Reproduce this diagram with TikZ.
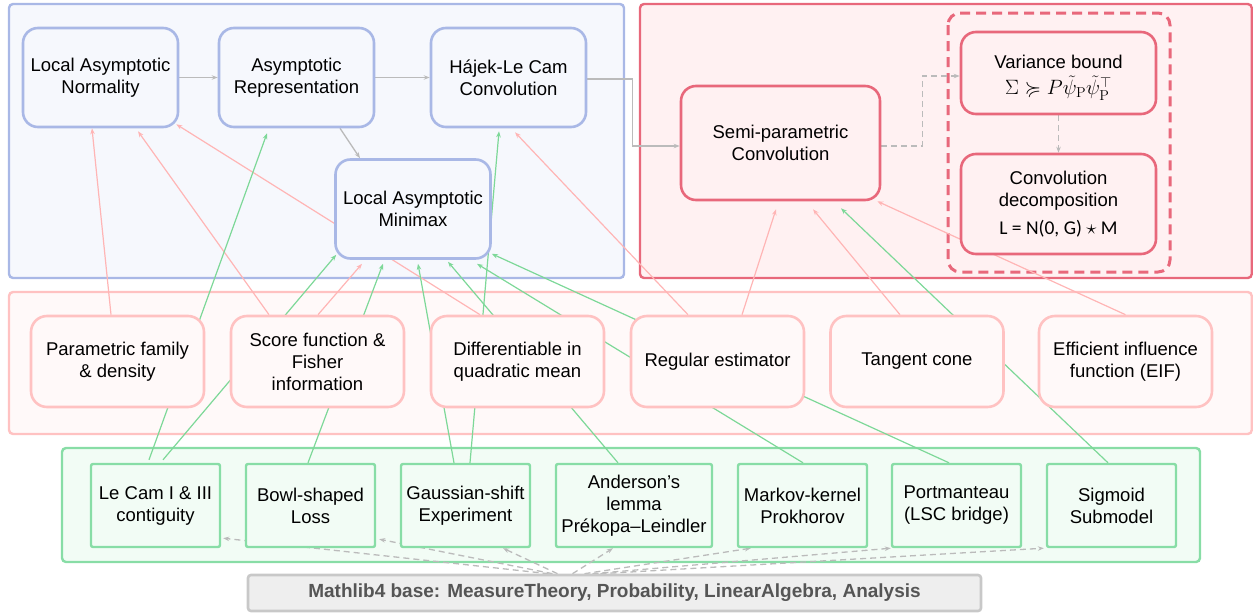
\documentclass[tikz,border=0pt]{standalone}
\usepackage[no-math]{fontspec}
\usepackage{amssymb}
\setmainfont{Liberation Sans}
\newfontfamily\calibfont{Carlito}
\usetikzlibrary{arrows.meta,calc}
\pgfdeclarelayer{background}
\pgfdeclarelayer{edges}
\pgfsetlayers{background,edges,main}
\definecolor{bluebd}{HTML}{A9B8E6}
\definecolor{bluefill}{HTML}{F6F8FD}
\definecolor{redbd}{HTML}{E8687B}
\definecolor{redfill}{HTML}{FFF1F2}
\definecolor{pinkbd}{HTML}{FFC2C2}
\definecolor{pinkfill}{HTML}{FFF9F9}
\definecolor{greenbd}{HTML}{88DDA6}
\definecolor{greenfill}{HTML}{F2FCF5}
\definecolor{grayedge}{HTML}{BBBBBB}
\definecolor{pinkedge}{HTML}{FFB5B5}
\definecolor{greenedge}{HTML}{7DD898}
\definecolor{basefill}{HTML}{EEEEEE}
\definecolor{basebd}{HTML}{C8C8C8}
\definecolor{basetext}{HTML}{555555}
\tikzset{
  box/.style={align=center, inner sep=0pt, font=\fontsize{18.5}{22}\selectfont, text=black},
  bluenode/.style={box, draw=bluebd, fill=bluefill, line width=2.6pt, rounded corners=15pt, minimum width=155pt, minimum height=99pt},
  rednode/.style={box, draw=redbd, fill=redfill, line width=2.6pt, rounded corners=15pt},
  pinknode/.style={box, draw=pinkbd, fill=pinkfill, line width=2.6pt, rounded corners=16pt, minimum width=173pt, minimum height=91pt},
  greennode/.style={box, draw=greenbd, fill=greenfill, line width=2.4pt, rounded corners=2pt, minimum width=129pt, minimum height=83pt},
  panel/.style={line width=2.4pt, rounded corners=4pt},
  pinkarrow/.style={draw=pinkedge, line width=1.2pt, -{Stealth[length=6pt,width=4.5pt]}},
  greenarrow/.style={draw=greenedge, line width=1.2pt, -{Stealth[length=6pt,width=4.5pt]}},
  grayarrow/.style={draw=grayedge, line width=1.3pt, -{Stealth[length=6pt,width=4.5pt]}},
  dasharrow/.style={grayarrow, dash pattern=on 6pt off 4pt},
}
\begin{document}
\begin{tikzpicture}[x=1pt,y=-1pt]
\useasboundingbox (0,0) rectangle (1253,613);
% nodes
\node[bluenode] (LAN) at (100.5,77.5) {Local Asymptotic\\Normality};
\node[bluenode] (AR) at (296.5,77.5) {Asymptotic\\Representation};
\node[bluenode] (HLC) at (508.5,77.5) {Hájek-Le Cam\\Convolution};
\node[bluenode] (LAM) at (413,209) {Local Asymptotic\\Minimax};
\node[rednode, minimum width=199pt, minimum height=114pt] (Semi) at (780.5,143) {Semi-parametric\\Convolution};
\node[rednode, minimum width=195pt, minimum height=82pt,
  label={[box, yshift=-5pt]center:{Variance bound\\[4pt]{\fontsize{21}{24}\selectfont$\Sigma \succcurlyeq P\tilde{\psi}_{\mathrm{P}}\tilde{\psi}_{\mathrm{P}}^{\top}$}}}] (Var) at (1058.5,73) {};
\node[rednode, minimum width=195pt, minimum height=100pt] (Conv) at (1058.5,204) {Convolution\\decomposition\\[6pt]{\calibfont\fontsize{19.5}{22}\selectfont L = N(0, G) $\star$ M}};
\node[pinknode] (Par) at (117.5,361.5) {Parametric family\\\& density};
\node[pinknode] (Score) at (317.5,361.5) {Score function \&\\Fisher\\information};
\node[pinknode] (DQM) at (517.5,361.5) {Differentiable in\\quadratic mean};
\node[pinknode] (Reg) at (717.5,361.5) {Regular estimator};
\node[pinknode] (Tan) at (917,361.5) {Tangent cone};
\node[pinknode] (EIF) at (1125.5,361.5) {Efficient influence\\function (EIF)};
\node[greennode] (LeCam) at (155.5,505.5) {Le Cam I \& III\\contiguity};
\node[greennode] (Bowl) at (310.5,505.5) {Bowl-shaped\\Loss};
\node[greennode] (Gauss) at (465.5,505.5) {Gaussian-shift\\Experiment};
\node[greennode, minimum width=156pt] (And) at (634,505.5) {Anderson’s\\lemma\\Prékopa–Leindler};
\node[greennode] (Markov) at (802.5,505.5) {Markov-kernel\\Prokhorov};
\node[greennode] (Port) at (956.5,505.5) {Portmanteau\\(LSC bridge)};
\node[greennode] (Sig) at (1111.5,505.5) {Sigmoid\\Submodel};
\node[draw=basebd, fill=basefill, line width=2.6pt, rounded corners=3pt, minimum width=733pt, minimum height=36pt, inner sep=0pt, text=basetext, font=\fontsize{19}{22}\selectfont\bfseries] (Base) at (614.5,593) {Mathlib4 base: MeasureTheory, Probability, LinearAlgebra, Analysis};
% panels
\begin{pgfonlayer}{background}
\draw[panel, draw=bluebd, fill=bluefill] (9,4) rectangle (624,278);
\draw[panel, draw=redbd, fill=redfill] (640,4) rectangle (1251.8,278);
\draw[draw=redbd, line width=3pt, dash pattern=on 10pt off 6pt, rounded corners=12pt] (948,13) rectangle (1170,272);
\draw[panel, draw=pinkbd, fill=pinkfill] (9,292) rectangle (1251.8,434);
\draw[panel, draw=greenbd, fill=greenfill] (62,448) rectangle (1200,562);
\end{pgfonlayer}
% edges
\begin{pgfonlayer}{edges}
\draw[pinkarrow] ([xshift=-6.5pt]Par.north) -- ([xshift=-8.5pt]LAN.south);
\draw[pinkarrow] ([xshift=-48.5pt]Score.north) -- ([xshift=37.5pt,yshift=-3pt]LAN.south);
\draw[pinkarrow] ([xshift=-37.5pt]DQM.north) -- ([xshift=-3pt,yshift=4pt]LAN.south east);
\draw[pinkarrow] ([xshift=0.5pt]Score.north) -- ([xshift=-51pt,yshift=-4pt]LAM.south);
\draw[pinkarrow] ([xshift=-29.5pt]Reg.north) -- ([xshift=6.5pt,yshift=-4pt]HLC.south);
\draw[pinkarrow] ([xshift=24.5pt]Reg.north) -- ([xshift=-4.5pt,yshift=-8pt]Semi.south);
\draw[pinkarrow] ([xshift=-17pt]Tan.north) -- ([xshift=32.5pt,yshift=-8pt]Semi.south);
\draw[pinkarrow] (EIF.north) -- ([xshift=-4pt]Semi.south east);
\draw[greenarrow] ([xshift=-6.5pt,yshift=3pt]LeCam.north) -- ([xshift=-29.5pt,yshift=-5pt]AR.south);
\draw[greenarrow] ([xshift=7.5pt,yshift=3pt]LeCam.north) -- ([xshift=2pt,yshift=5pt]LAM.south west);
\draw[greenarrow] ([xshift=-2.5pt]Bowl.north) -- ([xshift=-30pt,yshift=-4pt]LAM.south);
\draw[greenarrow] ([xshift=-11.5pt]Gauss.north) -- ([xshift=5pt,yshift=-4pt]LAM.south);
\draw[greenarrow] ([xshift=4.5pt]Gauss.north) -- ([xshift=-9.5pt,yshift=-3pt]HLC.south);
\draw[greenarrow] ([xshift=-16pt]And.north) -- ([xshift=35pt,yshift=-2pt]LAM.south);
\draw[greenarrow] ([xshift=0.5pt]Markov.north) -- ([xshift=64pt,yshift=-4pt]LAM.south);
\draw[greenarrow] ([xshift=-7.5pt]Port.north) -- ([yshift=6pt]LAM.south east);
\draw[greenarrow] ([xshift=-3.5pt]Sig.north) -- ([xshift=60.5pt,yshift=-7pt]Semi.south);
\draw[grayarrow] (LAN.east) -- (AR.west);
\draw[grayarrow] (AR.east) -- (HLC.west);
\draw[grayarrow] ([xshift=43.5pt]AR.south) -- ([xshift=-53pt]LAM.north);
\draw[grayarrow] ([yshift=-1.5pt]HLC.east) -- ++(45,0) |- ([yshift=-3pt]Semi.west);
\draw[dasharrow] ([yshift=-3pt]Semi.east) -- ++(41,0) |- ([yshift=-3pt]Var.west);
\draw[dasharrow] (Var.south) -- (Conv.north);
\draw[dasharrow] ([xshift=-66pt]Base.north) -- ([xshift=2pt,yshift=10pt]LeCam.south east);
\draw[dasharrow] ([xshift=-62pt]Base.north) -- ([xshift=3pt,yshift=9pt]Bowl.south east);
\draw[dasharrow] ([xshift=-57pt]Base.north) -- ([xshift=37.5pt]Gauss.south);
\draw[dasharrow] ([xshift=-42pt]Base.north) -- ([xshift=-21pt]And.south);
\draw[dasharrow] ([xshift=-30pt]Base.north) -- ([xshift=14pt]Markov.south west);
\draw[dasharrow] ([xshift=-22pt]Base.north) -- (Port.south west);
\draw[dasharrow] ([xshift=-14pt]Base.north) -- ([xshift=-2pt]Sig.south west);
\end{pgfonlayer}
\end{tikzpicture}
\end{document}
